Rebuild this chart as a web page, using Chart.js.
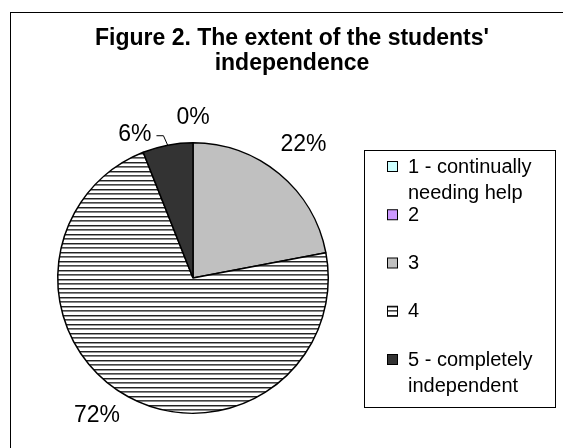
<!DOCTYPE html>
<html><head><meta charset="utf-8">
<script src="https://cdn.jsdelivr.net/npm/chart.js@4/dist/chart.umd.min.js"></script>
<style>html,body{margin:0;padding:0;background:#fff;overflow:hidden}canvas{display:block}</style>
</head><body>
<canvas id="c" width="563" height="448"></canvas>
<script>
// ---- data ----
const titleLines = ["Figure 2. The extent of the students'", "independence"];
const categories = ["1 - continually needing help", "2", "3", "4", "5 - completely independent"];
const legendLines = [["1 - continually", "needing help"], ["2"], ["3"], ["4"], ["5 - completely", "independent"]];
const percentages = [0, null, 22, 72, 6];
const sliceFills = ["#ccffff", "#cc99ff", "#c0c0c0", "hlines", "#333333"];

const FONT = "'Liberation Sans', Arial, sans-serif";

function makeHLines() {
  const p = document.createElement('canvas');
  p.width = 8; p.height = 9;
  const g = p.getContext('2d');
  g.fillStyle = '#fff'; g.fillRect(0, 0, 8, 9);
  g.fillStyle = '#222'; g.fillRect(0, 0, 8, 1);
  g.fillStyle = '#999'; g.fillRect(0, 1, 8, 1);
  g.fillStyle = '#444'; g.fillRect(0, 4, 8, 1);
  g.fillStyle = '#888'; g.fillRect(0, 5, 8, 1);
  return document.getElementById('c').getContext('2d').createPattern(p, 'repeat');
}
const hPattern = makeHLines();
const fills = sliceFills.map(f => f === 'hlines' ? hPattern : f);

const decor = {
  id: 'decor',
  beforeDraw(chart) {
    const ctx = chart.ctx;
    ctx.save();
    ctx.fillStyle = '#fff';
    ctx.fillRect(0, 0, chart.width, chart.height);
    ctx.strokeStyle = '#000'; ctx.lineWidth = 1;
    ctx.strokeRect(10.5, 12.5, 700, 600);
    // title
    ctx.fillStyle = '#000';
    ctx.font = 'bold 23px ' + FONT;
    ctx.textAlign = 'center'; ctx.textBaseline = 'middle';
    titleLines.forEach((t, i) => ctx.fillText(t, 292, 39 + i * 25));
    ctx.restore();
  },
  afterDatasetsDraw(chart, args, opts) {
    const ctx = chart.ctx;
    const meta = chart.getDatasetMeta(0);
    ctx.save();
    ctx.font = '23px ' + FONT;
    ctx.fillStyle = '#000'; ctx.strokeStyle = '#000'; ctx.lineWidth = 1;
    ctx.textAlign = 'center'; ctx.textBaseline = 'middle';
    meta.data.forEach((arc, i) => {
      const v = percentages[i];
      if (v === null || v === undefined) return;
      const txt = v + '%';
      const r = arc.outerRadius;
      const mid = (arc.startAngle + arc.endAngle) / 2;
      const nudge = opts.nudge[i] || {angle: 0, radius: 0};
      const a = mid + nudge.angle * Math.PI / 180;
      const hw = ctx.measureText(txt).width / 2;
      const hh = 0.358 * 23;
      const d = r + opts.gap + Math.abs(Math.cos(a)) * hw + Math.abs(Math.sin(a)) * hh + nudge.radius;
      const lx = arc.x + Math.cos(a) * d, ly = arc.y + Math.sin(a) * d;
      ctx.fillText(txt, lx, ly);
      if (nudge.leader) {
        const sx = lx + hw + 5;
        const ex = arc.x + Math.cos(mid) * r, ey = arc.y + Math.sin(mid) * r;
        ctx.beginPath();
        ctx.moveTo(sx, ly + 1);
        ctx.lineTo(sx + 7, ly + 1);
        ctx.lineTo(ex, ey);
        ctx.stroke();
      }
    });
    ctx.restore();
  },
  afterDraw(chart) {
    const ctx = chart.ctx;
    ctx.save();
    // legend box
    ctx.strokeStyle = '#000'; ctx.lineWidth = 1;
    ctx.fillStyle = '#fff';
    ctx.fillRect(364.5, 150.5, 191, 257);
    ctx.strokeRect(364.5, 150.5, 191, 257);
    ctx.font = '20px ' + FONT;
    ctx.textAlign = 'left'; ctx.textBaseline = 'middle';
    legendLines.forEach((lines, i) => {
      const y0 = 167 + i * 48.25;
      ctx.fillStyle = fills[i];
      ctx.fillRect(387.5, y0 - 5.5, 10, 10);
      ctx.strokeStyle = '#000';
      ctx.strokeRect(387.5, y0 - 5.5, 10, 10);
      ctx.fillStyle = '#000';
      lines.forEach((l, j) => ctx.fillText(l, 408, y0 + j * 26));
    });
    ctx.restore();
  }
};

new Chart(document.getElementById('c'), {
  type: 'pie',
  data: {
    labels: categories,
    datasets: [{
      data: percentages,
      backgroundColor: fills,
      borderColor: '#000',
      borderWidth: 1.5,
      borderAlign: 'center'
    }]
  },
  options: {
    responsive: false,
    animation: false,
    devicePixelRatio: 1,
    layout: { padding: { left: 57, right: 234, top: 142, bottom: 34 } },
    plugins: {
      legend: { display: false },
      title: { display: false },
      tooltip: { enabled: false },
      decor: {
        gap: 17,
        nudge: {
          3: { angle: 6, radius: -4 },
          4: { angle: -11.3, radius: -11.5, leader: true }
        }
      }
    }
  },
  plugins: [decor]
});
</script>
</body></html>
